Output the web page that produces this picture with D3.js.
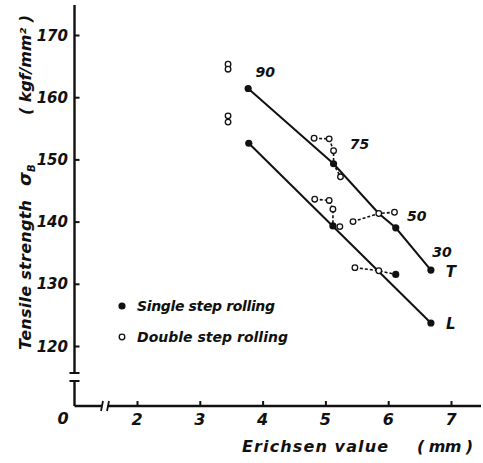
<!DOCTYPE html>
<html>
<head>
<meta charset="utf-8">
<script src="https://cdn.jsdelivr.net/npm/d3@7"></script>
<style>
  body { margin: 0; background: #fff; }
  text { font-family: "DejaVu Sans", sans-serif; font-style: italic; font-weight: bold; fill: #111; }
</style>
</head>
<body>
<div id="chart"></div>
<script>
// ---- data ----
const reductions = ["90", "75", "50", "30"];
// single step rolling (filled)
const tSingle = [[3.77, 161.4], [5.13, 149.3], [6.12, 139.0], [6.68, 132.2]];
const lSingle = [[3.78, 152.6], [5.12, 139.3], [6.12, 131.5], [6.68, 123.7]];
// double step rolling (open)
const tDouble = [[3.45, 165.3], [3.45, 164.5], [4.82, 153.4], [5.06, 153.3], [5.13, 151.4],
                 [5.24, 147.2], [5.44, 140.0], [5.85, 141.3], [6.10, 141.5]];
const lDouble = [[3.45, 157.0], [3.45, 156.0], [4.83, 143.6], [5.06, 143.4], [5.12, 142.0],
                 [5.23, 139.2], [5.47, 132.6], [5.85, 132.1]];
// dotted connections between double step points
const dotted = [
  [[4.82, 153.4], [5.06, 153.3], [5.13, 151.4], [5.13, 149.3], [5.24, 147.2]],
  [[4.83, 143.6], [5.06, 143.4], [5.12, 142.0], [5.12, 139.3]],
  [[5.44, 140.0], [5.85, 141.3], [6.10, 141.5]],
  [[5.47, 132.6], [5.85, 132.1], [6.12, 131.5]]
];
// solid lines through single step points
const tLine = [[3.77, 161.4], [5.13, 149.3], [5.85, 141.3], [6.12, 139.0], [6.68, 132.2]];
const lLine = [[3.78, 152.6], [6.68, 123.7]];
const xTicks = [2, 3, 4, 5, 6, 7];
const yTicks = [120, 130, 140, 150, 160, 170];

const width = 483, height = 463;
const svg = d3.select("#chart").append("svg")
  .attr("width", width).attr("height", height);

const x = d3.scaleLinear().domain([2, 7]).range([137, 451]);
const y = d3.scaleLinear().domain([120, 170]).range([346, 35]);
const x0 = 74.5, y0 = 406;   // origin (broken axes)

const line = d3.line().x(d => x(d[0])).y(d => y(d[1]));

// axes lines with breaks
const ax = svg.append("g").attr("stroke", "#111").attr("stroke-width", 2.4).attr("fill", "none");
ax.append("path").attr("d", `M${x0},${y0}V381 M${x0},373V5`);
ax.append("path").attr("d", `M${x0 - 5},381H${x0 + 5} M${x0 - 5},373H${x0 + 5}`).attr("stroke-width", 1.8);
ax.append("path").attr("d", `M${x0},${y0}H102 M108,${y0}H481`);
ax.append("path").attr("d", `M101,${y0 + 5}L103,${y0 - 5} M107,${y0 + 5}L109,${y0 - 5}`).attr("stroke-width", 1.8);

// y ticks
const yAxis = svg.append("g").attr("transform", `translate(${x0},0)`)
  .call(d3.axisRight(y).tickValues(yTicks).tickSize(5).tickFormat(""));
yAxis.select(".domain").remove();
yAxis.selectAll("line").attr("stroke", "#111").attr("stroke-width", 2);
svg.selectAll(".ylab").data(yTicks).enter().append("text")
  .attr("x", 68).attr("y", d => y(d) + 5.5)
  .attr("text-anchor", "end").style("font-size", "15px").text(d => d);

// x ticks
const xAxis = svg.append("g").attr("transform", `translate(0,${y0})`)
  .call(d3.axisTop(x).tickValues(xTicks).tickSize(5).tickFormat(""));
xAxis.select(".domain").remove();
xAxis.selectAll("line").attr("stroke", "#111").attr("stroke-width", 2);
svg.selectAll(".xlab").data(xTicks).enter().append("text")
  .attr("x", d => x(d)).attr("y", 425)
  .attr("text-anchor", "middle").style("font-size", "16px").text(d => d);
svg.append("text").attr("x", 63).attr("y", 424).attr("text-anchor", "middle")
  .style("font-size", "16px").text("0");

// axis titles
svg.append("text").attr("x", 242).attr("y", 452).style("font-size", "16px")
  .attr("textLength", 146).attr("lengthAdjust", "spacing").text("Erichsen value");
svg.append("text").attr("x", 417).attr("y", 452).style("font-size", "16px")
  .attr("textLength", 56).attr("lengthAdjust", "spacing").text("( mm )");

const yt = svg.append("g").attr("transform", "translate(31,0) rotate(-90)");
yt.append("text").attr("x", -350).attr("y", 0).style("font-size", "16px")
  .attr("textLength", 150).attr("lengthAdjust", "spacing").text("Tensile strength");
const sig = yt.append("text").attr("x", -186).attr("y", 0).style("font-size", "18px");
sig.append("tspan").text("σ");
sig.append("tspan").attr("dy", 4).style("font-size", "10px").text("B");
yt.append("text").attr("x", -115).attr("y", 0).style("font-size", "16px")
  .attr("textLength", 100).attr("lengthAdjust", "spacing").text("( kgf/mm² )");

// solid lines
svg.selectAll(".solid").data([tLine, lLine]).enter().append("path")
  .attr("d", line).attr("fill", "none").attr("stroke", "#111").attr("stroke-width", 2);

// dotted connectors
svg.selectAll(".dot-line").data(dotted).enter().append("path")
  .attr("d", line).attr("fill", "none").attr("stroke", "#111")
  .attr("stroke-width", 1.6).attr("stroke-dasharray", "3,2");

// double step points (open)
svg.selectAll(".open").data(tDouble.concat(lDouble)).enter().append("circle")
  .attr("cx", d => x(d[0])).attr("cy", d => y(d[1])).attr("r", 2.8)
  .attr("fill", "#fff").attr("stroke", "#111").attr("stroke-width", 1.3);

// single step points (filled)
svg.selectAll(".filled").data(tSingle.concat(lSingle)).enter().append("circle")
  .attr("cx", d => x(d[0])).attr("cy", d => y(d[1])).attr("r", 3.6).attr("fill", "#111");

// reduction labels
const labOff = [[17, -11], [26, -15], [21, -7], [11, -13]];
svg.selectAll(".red").data(tSingle).enter().append("text")
  .attr("x", (d, i) => x(d[0]) + labOff[i][0]).attr("y", (d, i) => y(d[1]) + labOff[i][1])
  .attr("text-anchor", "middle").style("font-size", "14px").text((d, i) => reductions[i]);
svg.append("text").attr("x", x(tSingle[3][0]) + 20).attr("y", y(tSingle[3][1]) + 7)
  .attr("text-anchor", "middle").style("font-size", "15px").text("T");
svg.append("text").attr("x", x(lSingle[3][0]) + 20).attr("y", y(lSingle[3][1]) + 6)
  .attr("text-anchor", "middle").style("font-size", "15px").text("L");

// legend
svg.append("circle").attr("cx", 122).attr("cy", 306).attr("r", 3.6).attr("fill", "#111");
svg.append("circle").attr("cx", 122).attr("cy", 337).attr("r", 2.8)
  .attr("fill", "#fff").attr("stroke", "#111").attr("stroke-width", 1.3);
svg.append("text").attr("x", 137).attr("y", 311).style("font-size", "14px")
  .attr("textLength", 138).attr("lengthAdjust", "spacing").text("Single step rolling");
svg.append("text").attr("x", 137).attr("y", 342).style("font-size", "14px")
  .attr("textLength", 151).attr("lengthAdjust", "spacing").text("Double step rolling");
</script>
</body>
</html>
